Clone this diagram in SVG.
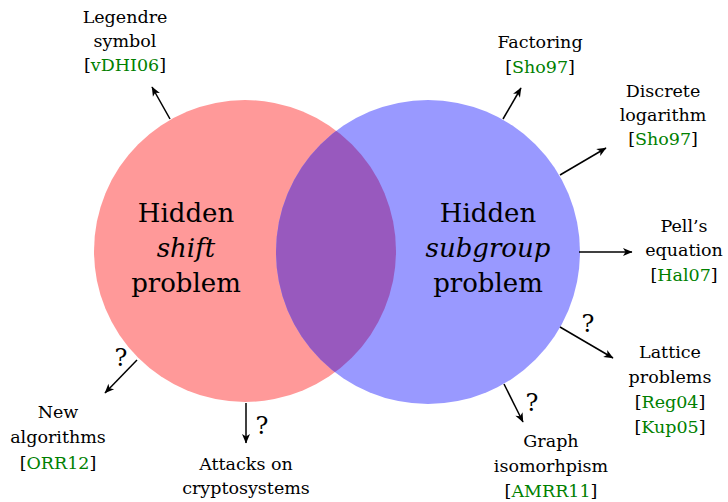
<svg xmlns="http://www.w3.org/2000/svg" width="728" height="502" viewBox="0 0 728 502">
<style>
text{font-family:"DejaVu Serif",serif;fill:#000;text-anchor:middle}
.s{font-size:17.5px}
.b{font-size:26px}
.q{font-size:24px}
.c{fill:#008000}
.it{font-style:italic}
.ar{stroke:#000;stroke-width:1.5;fill:none;marker-end:url(#ah)}
</style>
<defs>
<marker id="ah" viewBox="-10 -5 11 10" refX="0" refY="0" markerWidth="11" markerHeight="10" markerUnits="userSpaceOnUse" orient="auto">
<path d="M0.5,0 L-9,-4 L-6.5,0 L-9,4 Z" fill="#000"/>
</marker>
<clipPath id="clipRed"><circle cx="245" cy="251" r="151"/></clipPath>
</defs>
<g id="hsp">
<circle cx="245" cy="251" r="151" fill="#FF9999"/>
</g>
<g id="hsgp">
<circle cx="428" cy="252" r="152" fill="#9999FF"/>
</g>
<g id="overlap">
<circle cx="428" cy="252" r="152" fill="#9859BE" clip-path="url(#clipRed)"/>
</g>
<g id="hsp-label">
<text class="b" x="186" y="222">Hidden</text>
<text class="b it" x="186" y="257">shift</text>
<text class="b" x="186" y="292">problem</text>
</g>
<g id="hsgp-label">
<text class="b" x="488" y="222">Hidden</text>
<text class="b it" x="488" y="257">subgroup</text>
<text class="b" x="488" y="292">problem</text>
</g>
<g id="connectors">
<line class="ar" x1="170" y1="119" x2="152" y2="87"/>
<line class="ar" x1="503" y1="119" x2="521" y2="88"/>
<line class="ar" x1="560" y1="175" x2="606" y2="148"/>
<line class="ar" x1="579" y1="252" x2="632" y2="252"/>
<line class="ar" x1="560" y1="327" x2="613" y2="358"/>
<line class="ar" x1="504" y1="384" x2="523" y2="422"/>
<line class="ar" x1="246" y1="403" x2="246" y2="443"/>
<line class="ar" x1="137" y1="360" x2="105" y2="393"/>
<text class="q" x="121" y="366">?</text>
<text class="q" x="262" y="434">?</text>
<text class="q" x="532" y="411">?</text>
<text class="q" x="588" y="332">?</text>
</g>
<g id="legendre">
<text class="s" x="125" y="23">Legendre</text>
<text class="s" x="125" y="47">symbol</text>
<text class="s" x="125" y="71">[<tspan class="c">vDHI06</tspan>]</text>
</g>
<g id="factoring">
<text class="s" x="540" y="48">Factoring</text>
<text class="s" x="540" y="73">[<tspan class="c">Sho97</tspan>]</text>
</g>
<g id="dlog">
<text class="s" x="663" y="97">Discrete</text>
<text class="s" x="663" y="121">logarithm</text>
<text class="s" x="663" y="145">[<tspan class="c">Sho97</tspan>]</text>
</g>
<g id="pell">
<text class="s" x="684" y="232">Pell’s</text>
<text class="s" x="684" y="256">equation</text>
<text class="s" x="684" y="281">[<tspan class="c">Hal07</tspan>]</text>
</g>
<g id="lattice">
<text class="s" x="670" y="358">Lattice</text>
<text class="s" x="670" y="383">problems</text>
<text class="s" x="670" y="408">[<tspan class="c">Reg04</tspan>]</text>
<text class="s" x="670" y="433">[<tspan class="c">Kup05</tspan>]</text>
</g>
<g id="graph">
<text class="s" x="551" y="447">Graph</text>
<text class="s" x="551" y="472">isomorhpism</text>
<text class="s" x="551" y="497">[<tspan class="c">AMRR11</tspan>]</text>
</g>
<g id="newalg">
<text class="s" x="58" y="418">New</text>
<text class="s" x="58" y="443">algorithms</text>
<text class="s" x="58" y="469">[<tspan class="c">ORR12</tspan>]</text>
</g>
<g id="attacks">
<text class="s" x="246" y="470">Attacks on</text>
<text class="s" x="246" y="494">cryptosystems</text>
</g>
</svg>
